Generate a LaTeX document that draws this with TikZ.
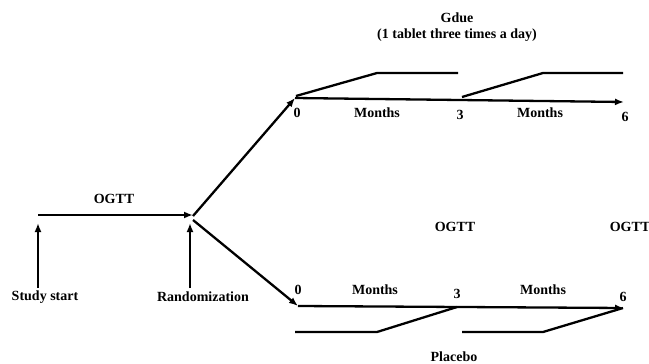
\documentclass[tikz,border=0pt]{standalone}
\usepackage{fontspec}
\setmainfont{Liberation Serif}
\usetikzlibrary{arrows.meta,positioning}
\begin{document}
\begin{tikzpicture}[x=1pt,y=-1pt,
  lbl/.style={font=\fontsize{14}{16.5}\selectfont\bfseries,inner sep=0pt,align=center},
  arr/.style={-{Latex[length=9pt,width=7pt]},line width=2.3pt},
  dose/.style={line width=2.3pt}
]
  \useasboundingbox (0,0) rectangle (649,364);
  % Screening
  \coordinate (start) at (38,215);
  \coordinate (rand) at (193,215);
  \draw[arr] (start) -- (rand);
  \node[lbl] (ogtt0) at (114,199) {OGTT};
  \node[lbl] (study) at (45,297) {Study start};
  \node[lbl] (randlbl) at (203,297) {Randomization};
  \coordinate (s0) at (38,288);
  \coordinate (s1) at (38,223);
  \coordinate (r0) at (190,288);
  \coordinate (r1) at (190,223);
  \draw[arr] (s0) -- (s1);
  \draw[arr] (r0) -- (r1);
  % Branches
  \coordinate (g0) at (295,98);
  \coordinate (p0) at (298,306);
  \draw[arr] ([yshift=-1pt]rand) -- (g0);
  \draw[arr] ([yshift=-5pt]rand) -- (p0);
  % Gdue arm
  \coordinate (g6) at (624,102);
  \draw[arr] (g0) -- (g6);
  \node[lbl] (gdue) at (457,27) {Gdue\\(1 tablet three times a day)};
  \node[lbl] (gt0) at (297,113) {0};
  \node[lbl] (gm1) at (377,113) {Months};
  \node[lbl] (gt3) at (460,115) {3};
  \node[lbl] (gm2) at (540,113) {Months};
  \node[lbl] (gt6) at (625,117) {6};
  \draw[dose] (296,96) -- (377,73) -- (458,73);
  \draw[dose] (462,97) -- (543,73) -- (623,73);
  % OGTT visits
  \node[lbl] (ogtt3) at (455,227) {OGTT};
  \node[lbl] (ogtt6) at (630,227) {OGTT};
  % Placebo arm
  \coordinate (p6) at (624,308);
  \draw[arr] (p0) -- (p6);
  \node[lbl] (placebo) at (454,357) {Placebo};
  \node[lbl] (pt0) at (298,290) {0};
  \node[lbl] (pm1) at (375,290) {Months};
  \node[lbl] (pt3) at (457,294) {3};
  \node[lbl] (pm2) at (543,290) {Months};
  \node[lbl] (pt6) at (623,297) {6};
  \draw[dose] (295,332) -- (377,332) -- (457,307);
  \draw[dose] (462,332) -- (543,332) -- (623,308);
\end{tikzpicture}
\end{document}
